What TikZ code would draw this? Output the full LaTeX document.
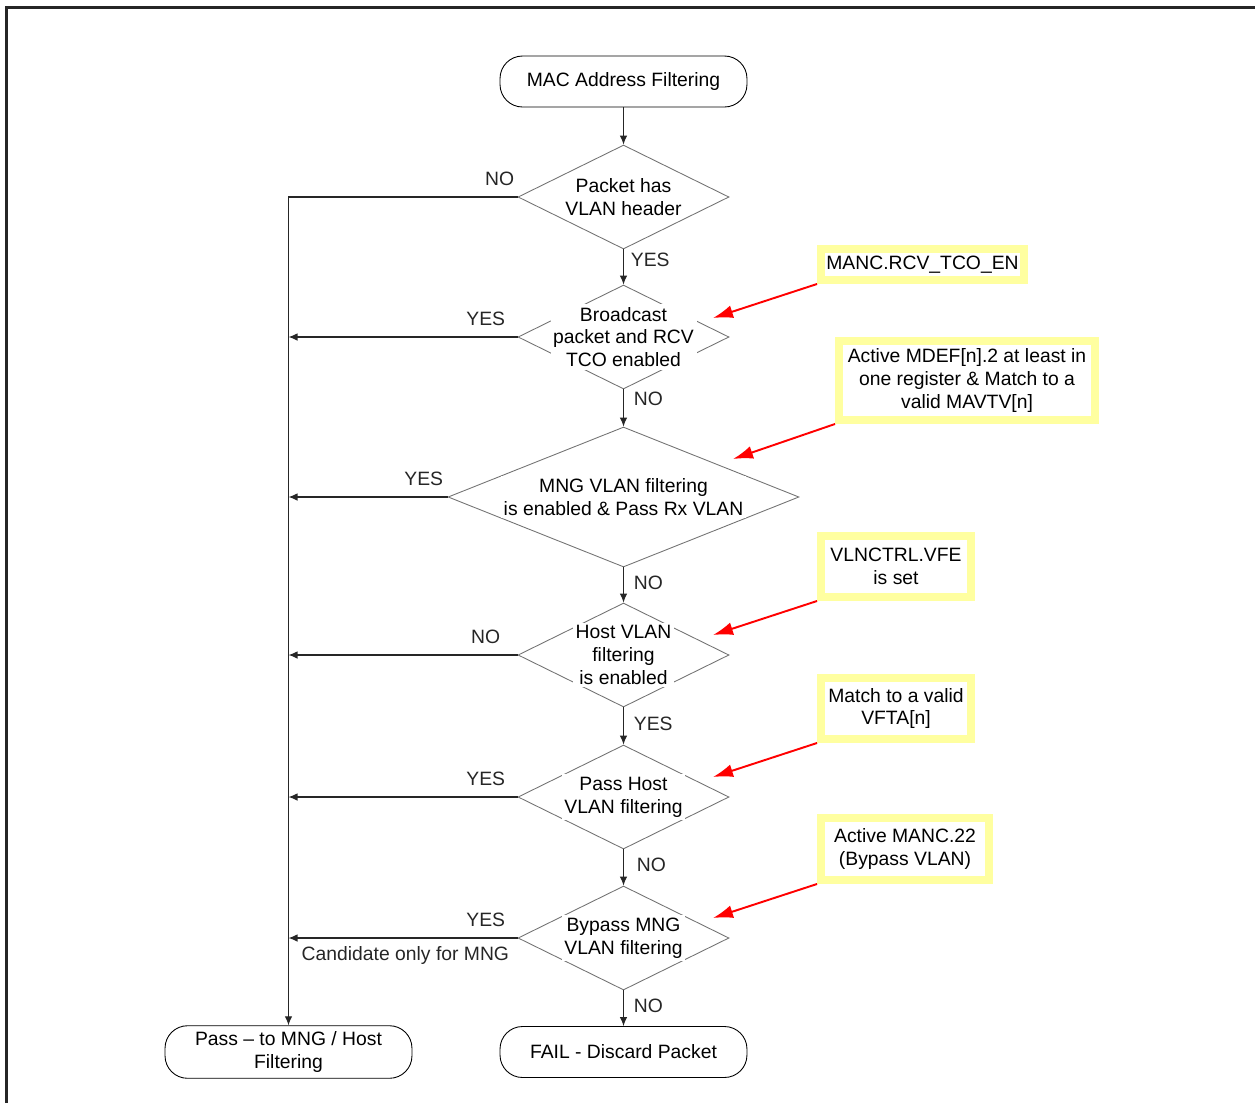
\documentclass[tikz,border=0pt]{standalone}
\usepackage{fontspec}
\setmainfont{Liberation Sans}
\usetikzlibrary{shapes.geometric,arrows.meta,positioning}
\definecolor{notebg}{RGB}{255,255,160}
\tikzset{
  term/.style={draw, line width=0.5pt, rounded corners=0.45cm, minimum width=4.94cm, minimum height=1.02cm, align=center},
  decision/.style={diamond, draw=black!55, line width=0.5pt, minimum width=4.22cm, minimum height=2.08cm, inner sep=0pt},
  dtext/.style={fill=white, align=center, inner sep=1.5pt},
  note/.style={draw=notebg, line width=0.16cm, fill=white, align=center, inner sep=0pt},
  arr/.style={-{Latex[length=1.8mm,width=1.5mm]}, black!85, line width=0.6pt},
  redarr/.style={-{Latex[length=4mm,width=2.6mm]}, red, line width=1.1pt},
  hlbl/.style={anchor=south east, inner sep=0pt, yshift=0.22cm},
  vlbl/.style={right, xshift=0.08cm},
}
\begin{document}
\begin{tikzpicture}[x=0.02cm,y=-0.02cm,font=\fontsize{11}{13}\selectfont]
\useasboundingbox (0,0) rectangle (1255,1103);
% frame
\draw[black!85,line width=1.2pt] (6.5,1103) -- (6.5,7.5) -- (1255,7.5);

% flow
\node[term] (start) at (623.5,81.5) {MAC Address Filtering};
\node[decision] (d1) at (623.5,197) {};
\node[dtext] (d1t) at (d1) {Packet has\\VLAN header};
\node[decision] (d2) at (623.5,337) {};
\node[dtext] (d2t) at (d2) {Broadcast\\packet and RCV\\TCO enabled};
\node[decision, minimum width=7.02cm, minimum height=2.8cm] (d3) at (623.5,497) {};
\node[dtext] (d3t) at (d3) {MNG VLAN filtering\\is enabled \& Pass Rx VLAN};
\node[decision] (d4) at (623.5,655) {};
\node[dtext] (d4t) at (d4) {Host VLAN\\filtering\\is enabled};
\node[decision] (d5) at (623.5,797) {};
\node[dtext] (d5t) at (d5) {Pass Host\\VLAN filtering};
\node[decision] (d6) at (623.5,938) {};
\node[dtext] (d6t) at (d6) {Bypass MNG\\VLAN filtering};
\node[term] (fail) at (623.5,1052) {FAIL - Discard Packet};
\node[term] (pass) at (288.5,1052) {Pass -- to MNG / Host\\Filtering};

\draw[arr] (start) -- (d1);
\draw[arr] (d1) -- node[vlbl,pos=0.3,xshift=-0.06cm]{YES} (d2);
\draw[arr] (d2) -- node[vlbl,pos=0.25]{NO} (d3);
\draw[arr] (d3) -- node[vlbl,pos=0.43]{NO} (d4);
\draw[arr] (d4) -- node[vlbl,pos=0.44]{YES} (d5);
\draw[arr] (d5) -- node[vlbl,pos=0.44,xshift=0.06cm]{NO} (d6);
\draw[arr] (d6) -- node[vlbl,pos=0.44]{NO} (fail);

\draw[arr] (d1.west) -- node[pos=0,hlbl,xshift=-0.06cm]{NO} (d1.west -| pass) -- (pass);
\draw[arr] (d2.west) -- node[pos=0,hlbl,xshift=-0.24cm]{YES} (d2.west -| pass);
\draw[arr] (d3.west) -- node[pos=0,hlbl,xshift=-0.08cm]{YES} (d3.west -| pass);
\draw[arr] (d4.west) -- node[pos=0,hlbl,xshift=-0.34cm]{NO} (d4.west -| pass);
\draw[arr] (d5.west) -- node[pos=0,hlbl,xshift=-0.24cm]{YES} (d5.west -| pass);
\draw[arr] (d6.west) -- node[pos=0,hlbl,xshift=-0.24cm]{YES}
  node[pos=0,anchor=north east,inner sep=0pt,xshift=-0.16cm,yshift=-0.16cm]{Candidate only for MNG} (d6.west -| pass);

% register notes
\node[note, minimum width=4.06cm, minimum height=0.62cm] (n1) at (922.5,264.5) {MANC.RCV\_TCO\_EN};
\node[note, minimum width=5.12cm, minimum height=1.58cm] (n2) at (967,380.5) {Active MDEF[n].2 at least in\\one register \& Match to a\\valid MAVTV[n]};
\node[note, minimum width=3.0cm, minimum height=1.22cm] (n3) at (896,566.5) {VLNCTRL.VFE\\is set};
\node[note, minimum width=3.0cm, minimum height=1.22cm] (n4) at (896,708.5) {Match to a valid\\VFTA[n]};
\node[note, minimum width=3.36cm, minimum height=1.24cm] (n5) at (905,849) {Active MANC.22\\(Bypass VLAN)};

\coordinate (t1) at (713,318);
\coordinate (t2) at (733,459);
\coordinate (t3) at (713,635);
\coordinate (t4) at (713,777);
\coordinate (t5) at (713,918);
\draw[redarr] (n1.south west) -- (t1);
\draw[redarr] (n2.south west) -- (t2);
\draw[redarr] (n3.south west) -- (t3);
\draw[redarr] (n4.south west) -- (t4);
\draw[redarr] (n5.south west) -- (t5);
\end{tikzpicture}
\end{document}
